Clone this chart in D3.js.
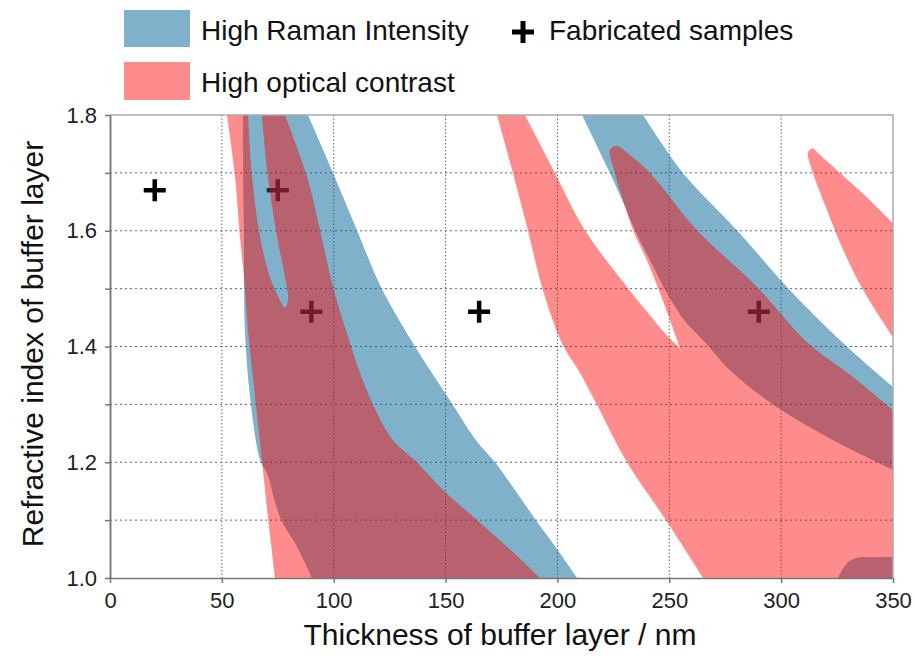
<!DOCTYPE html>
<html>
  <head>
    <meta charset="utf-8" />
    <title>Buffer layer map</title>
    <script src="https://d3js.org/d3.v7.min.js"></script>
    <style>
      body {
        margin: 0;
        background: #fff;
      }
      svg {
        font-family: "Liberation Sans", Arial, Helvetica, sans-serif;
      }
      .axis path,
      .axis line {
        stroke: #777;
        stroke-width: 1.5;
      }
      .axis text {
        font-size: 22px;
        fill: #222;
      }
      .grid line {
        stroke: #666;
        stroke-width: 1;
      }
    </style>
  </head>
  <body>
    <div id="chart"></div>
    <script>
      // ticks
      const xTicks = [0, 50, 100, 150, 200, 250, 300, 350];
      const yTicks = [1.0, 1.2, 1.4, 1.6, 1.8];
      const yMinor = [1.1, 1.3, 1.5, 1.7];

      // region outlines, [thickness nm, refractive index].
      // each region = list of smooth edges (single points = frame corners), joined straight
      const ramanLow = [
        [[59.5,1.8],[59.5,1.693],[59.9,1.589],[59.9,1.52],[60.3,1.428],[62.6,1.313],[67.1,1.204],[70.2,1.181],[76.0,1.105],[83.6,1.054],[90.3,1.0]],
        [[208.8,1.0],[199.8,1.05],[190.4,1.1],[181.0,1.152],[172.1,1.2],[163.6,1.238],[153.3,1.299],[143.9,1.354],[135.4,1.406],[121.1,1.503],[110.4,1.601],[99.7,1.7],[88.5,1.8]]
      ];
      const ramanMid = [
        [[238.3,1.8],[256.1,1.7],[280.3,1.601],[302.6,1.503],[327.7,1.406],[350,1.33]],
        [[350,1.187],[323.2,1.238],[298.2,1.295],[278.5,1.354],[265.1,1.411],[256.6,1.446],[249.0,1.492],[241.4,1.549],[234.7,1.601],[228.9,1.653],[222.2,1.71],[211.0,1.8]]
      ];
      const ramanCorner = [
        [[325.4,1.0],[329.5,1.026],[334.0,1.035],[341.1,1.036],[350,1.036]],
        [[350,1.0]]
      ];

      const contrastLow = [
        [[52.3,1.8],[55.9,1.693],[58.1,1.589],[59.9,1.52],[61.7,1.428],[64.8,1.313],[67.9,1.204],[70.6,1.105],[73.8,1.0]],
        [[192.2,1.0],[177.5,1.054],[164.1,1.1],[148.9,1.152],[137.2,1.2],[126.5,1.238],[117.6,1.299],[111.8,1.354],[107.3,1.406],[99.7,1.503],[93.9,1.601],[88.1,1.693],[78.2,1.8]],
        [[67.9,1.8],[70.6,1.693],[74.7,1.589],[78.2,1.52],[79.6,1.48],[78.2,1.467],[76.0,1.48],[71.5,1.52],[67.1,1.589],[63.5,1.693],[61.7,1.8]]
      ];
      const contrastMid = [
        [[173.0,1.8],[180.1,1.7],[186.8,1.601],[193.1,1.503],[202.0,1.406],[210.1,1.354],[217.7,1.299],[231.1,1.2],[249.0,1.097],[265.1,1.0]],
        [[350,1.0]],
        [[350,1.29],[330.8,1.351],[312.0,1.406],[289.2,1.503],[262.4,1.601],[241.4,1.7],[232.4,1.731],[226.5,1.747],[223.5,1.74],[225.7,1.7],[229.3,1.653],[233.8,1.601],[240.0,1.549],[245.9,1.492],[250.3,1.446],[254.8,1.397]],
        [[254.8,1.397],[248.1,1.423],[240.5,1.458],[231.1,1.503],[212.3,1.601],[198.9,1.7],[185.5,1.8]]
      ];
      const contrastHigh = [
        [[350,1.416],[336.6,1.498],[327.7,1.567],[320.5,1.636],[314.2,1.7],[312.0,1.735],[314.0,1.742],[317.4,1.731],[326.3,1.7],[338.3,1.658],[350,1.613]]
      ];

      // fabricated samples
      const samples = [[20,1.67],[75,1.67],[90,1.46],[165,1.46],[290,1.46]];

      const W = 915, H = 657;
      const plot = { left: 110, right: 893, top: 115, bottom: 578 };

      const x = d3.scaleLinear().domain([0, 350]).range([plot.left, plot.right]);
      const y = d3.scaleLinear().domain([1.0, 1.8]).range([plot.bottom, plot.top]);

      const svg = d3.select("#chart").append("svg")
        .attr("width", W)
        .attr("height", H);

      svg.append("defs").append("clipPath").attr("id", "clip")
        .append("rect")
        .attr("x", plot.left).attr("y", plot.top)
        .attr("width", plot.right - plot.left)
        .attr("height", plot.bottom - plot.top);

      //grid
      const grid = svg.append("g").attr("class", "grid");
      grid.selectAll(".h")
        .data(yTicks.concat(yMinor).filter(v => v > 1.0 && v < 1.8))
        .join("line")
        .attr("x1", plot.left).attr("x2", plot.right)
        .attr("y1", d => y(d)).attr("y2", d => y(d))
        .attr("stroke-dasharray", "2,3");
      grid.selectAll(".v")
        .data(xTicks.filter(v => v > 0 && v < 350))
        .join("line")
        .attr("y1", plot.top).attr("y2", plot.bottom)
        .attr("x1", d => x(d)).attr("x2", d => x(d))
        .attr("stroke-dasharray", "1.5,2");

      //smooth edges, straight joins, closed
      const edge = d3.line().x(d => x(d[0])).y(d => y(d[1])).curve(d3.curveCatmullRom.alpha(0.5));
      const region = edges => edges.map((e, i) => {
        if (e.length === 1) return `L${x(e[0][0])},${y(e[0][1])}`;
        const p = edge(e);
        return i === 0 ? p : "L" + p.slice(1);
      }).join("") + "Z";

      const regions = svg.append("g").attr("clip-path", "url(#clip)");

      // crosses sit below the coloured regions
      const plus = (cx, cy, r) => `M${cx - r},${cy}H${cx + r}M${cx},${cy - r}V${cy + r}`;
      regions.selectAll(".sample")
        .data(samples)
        .join("path")
        .attr("class", "sample")
        .attr("d", d => plus(x(d[0]), y(d[1]), 11))
        .attr("stroke", "#000")
        .attr("stroke-width", 4.5)
        .attr("fill", "none");

      regions.selectAll(".raman")
        .data([ramanLow, ramanMid, ramanCorner])
        .join("path")
        .attr("class", "raman")
        .attr("d", region)
        .attr("fill", "rgb(0,100,150)")
        .attr("fill-opacity", 0.5);

      regions.selectAll(".contrast")
        .data([contrastLow, contrastMid, contrastHigh])
        .join("path")
        .attr("class", "contrast")
        .attr("d", region)
        .attr("fill", "rgb(255,0,0)")
        .attr("fill-opacity", 0.45);

      // frame top / right
      svg.append("path")
        .attr("d", `M${plot.left},${plot.top}H${plot.right}V${plot.bottom}`)
        .attr("fill", "none")
        .attr("stroke", "#aaa")
        .attr("stroke-width", 1.5);

      //axes
      svg.append("g").attr("class", "axis")
        .attr("transform", `translate(0,${plot.bottom})`)
        .call(d3.axisBottom(x).tickValues(xTicks).tickFormat(d3.format("d")).tickSize(5).tickSizeOuter(0).tickPadding(9));

      svg.append("g").attr("class", "axis")
        .attr("transform", `translate(${plot.left},0)`)
        .call(d3.axisLeft(y).tickValues(yMinor).tickFormat("").tickSize(5).tickSizeOuter(0));

      svg.append("g").attr("class", "axis")
        .attr("transform", `translate(${plot.left},0)`)
        .call(d3.axisLeft(y).tickValues(yTicks).tickFormat(d3.format(".1f")).tickSize(5).tickSizeOuter(0).tickPadding(8));

      //axis titles
      svg.append("text")
        .attr("x", 500)
        .attr("y", 645)
        .attr("text-anchor", "middle")
        .attr("font-size", "30px")
        .attr("fill", "#111")
        .text("Thickness of buffer layer / nm");

      svg.append("text")
        .attr("transform", "translate(43,344) rotate(-90)")
        .attr("text-anchor", "middle")
        .attr("font-size", "30px")
        .attr("fill", "#111")
        .text("Refractive index of buffer layer");

      //legend
      const legend = svg.append("g");
      legend.append("rect")
        .attr("x", 124).attr("y", 10).attr("width", 66).attr("height", 37)
        .attr("fill", "rgb(0,100,150)").attr("fill-opacity", 0.5);
      legend.append("rect")
        .attr("x", 124).attr("y", 62).attr("width", 66).attr("height", 38)
        .attr("fill", "rgb(255,0,0)").attr("fill-opacity", 0.45);
      legend.append("text")
        .attr("x", 201).attr("y", 40)
        .attr("font-size", "28px").attr("fill", "#111")
        .text("High Raman Intensity");
      legend.append("text")
        .attr("x", 201).attr("y", 92)
        .attr("font-size", "28px").attr("fill", "#111")
        .text("High optical contrast");
      legend.append("path")
        .attr("d", plus(523, 32, 11))
        .attr("stroke", "#000").attr("stroke-width", 5).attr("fill", "none");
      legend.append("text")
        .attr("x", 549).attr("y", 40)
        .attr("font-size", "28px").attr("fill", "#111")
        .text("Fabricated samples");
    </script>
  </body>
</html>
